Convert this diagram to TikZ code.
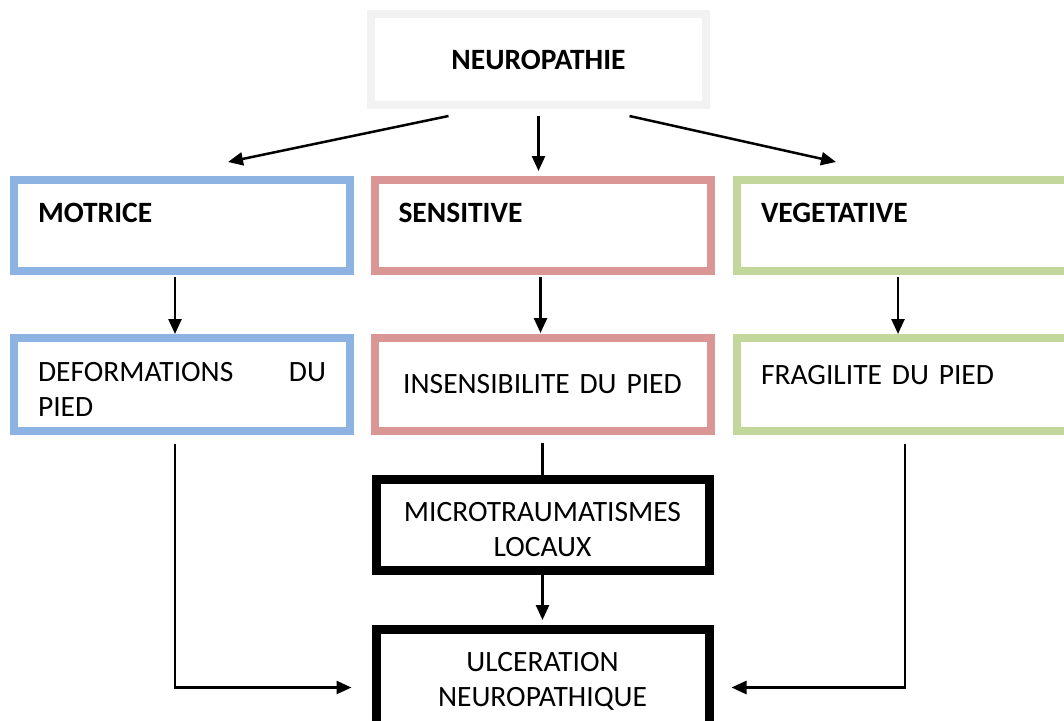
\documentclass[tikz,border=0pt]{standalone}
\usepackage{fontspec}
\setmainfont{Carlito}
\usetikzlibrary{positioning,arrows.meta}
\definecolor{gris}{HTML}{F2F2F2}
\definecolor{bleu}{HTML}{8DB3E2}
\definecolor{rouge}{HTML}{D99694}
\definecolor{vert}{HTML}{C3D69B}
\tikzset {
boite/.style={shape=rectangle,draw,line width=8pt,minimum height=91pt,inner xsep=24pt,text width=288pt,align=left,font=\fontsize{29.5}{35}\selectfont},
titre/.style={font=\fontsize{29.5}{35}\selectfont\bfseries,text depth=26pt},
cadre/.style={shape=rectangle,draw=black,line width=9pt,minimum width=333pt,minimum height=91pt,text width=300pt,align=center,text height=29pt,font=\fontsize{29.5}{35}\selectfont}
}

\begin{document}
\begin{tikzpicture}
[x=1pt,y=-1pt,>={Triangle[length=15pt,width=13pt]},every path/.append style={line width=2.5pt}]
\useasboundingbox (0,0) rectangle (1064,720);
\node[shape=rectangle,draw=gris,line width=8pt,minimum width=335pt,minimum height=91pt,font=\fontsize{29.5}{35}\selectfont\bfseries] (neuro) at (538.5,59.5) {NEUROPATHIE};

\node[boite,titre,draw=bleu] (motrice) at (182,225.5) {MOTRICE};
\node[boite,titre,draw=rouge] (sens) at (542.5,225.5) {SENSITIVE};
\node[boite,titre,draw=vert] (veg) at (905,225.5) {VEGETATIVE};

\node[boite,draw=bleu,minimum height=93pt,text height=28pt] (def) [below=59pt of motrice] {DEFORMATIONS \hfill DU\\PIED};
\node[boite,draw=rouge,minimum height=93pt,align=center] (ins) [below=59pt of sens] {INSENSIBILITE DU PIED};
\node[boite,draw=vert,minimum height=93pt,text depth=20pt] (frag) [below=59pt of veg] {FRAGILITE DU PIED};

\node[cadre] (micro) [below=40pt of ins] {MICROTRAUMATISMES\\LOCAUX};
\node[cadre,minimum height=100pt,text height=22pt] (ulc) [below=50pt of micro] {ULCERATION\\NEUROPATHIQUE};

\draw[->] ([xshift=-90pt,yshift=-7pt]neuro.south) -- ([xshift=46pt,yshift=14pt]motrice.north);
\draw[->,shorten >=5pt] ([yshift=-7pt]neuro.south) -- (neuro.south |- sens.north);
\draw[->] ([xshift=91pt,yshift=-7pt]neuro.south) -- ([xshift=-69pt,yshift=14pt]veg.north);

\draw[->] ([xshift=-7pt,yshift=-2pt]motrice.south) -- ([xshift=-7pt]def.north);
\draw[->] ([xshift=-2pt,yshift=-2pt]sens.south) -- ([xshift=-2pt,yshift=1pt]ins.north);
\draw[->] ([xshift=-7pt,yshift=-2pt]veg.south) -- ([xshift=-7pt]frag.north);

\draw ([yshift=-8pt]ins.south) -- (micro.north);
\draw[->,shorten >=5pt] (micro.south) -- (ulc.north);
\draw[->] ([xshift=-7pt,yshift=-9pt]def.south) |- ([xshift=-20pt,yshift=-8pt]ulc.west);
\draw[->] ([yshift=-9pt]frag.south) |- ([xshift=18pt,yshift=-8pt]ulc.east);
\end{tikzpicture}
\end{document}
